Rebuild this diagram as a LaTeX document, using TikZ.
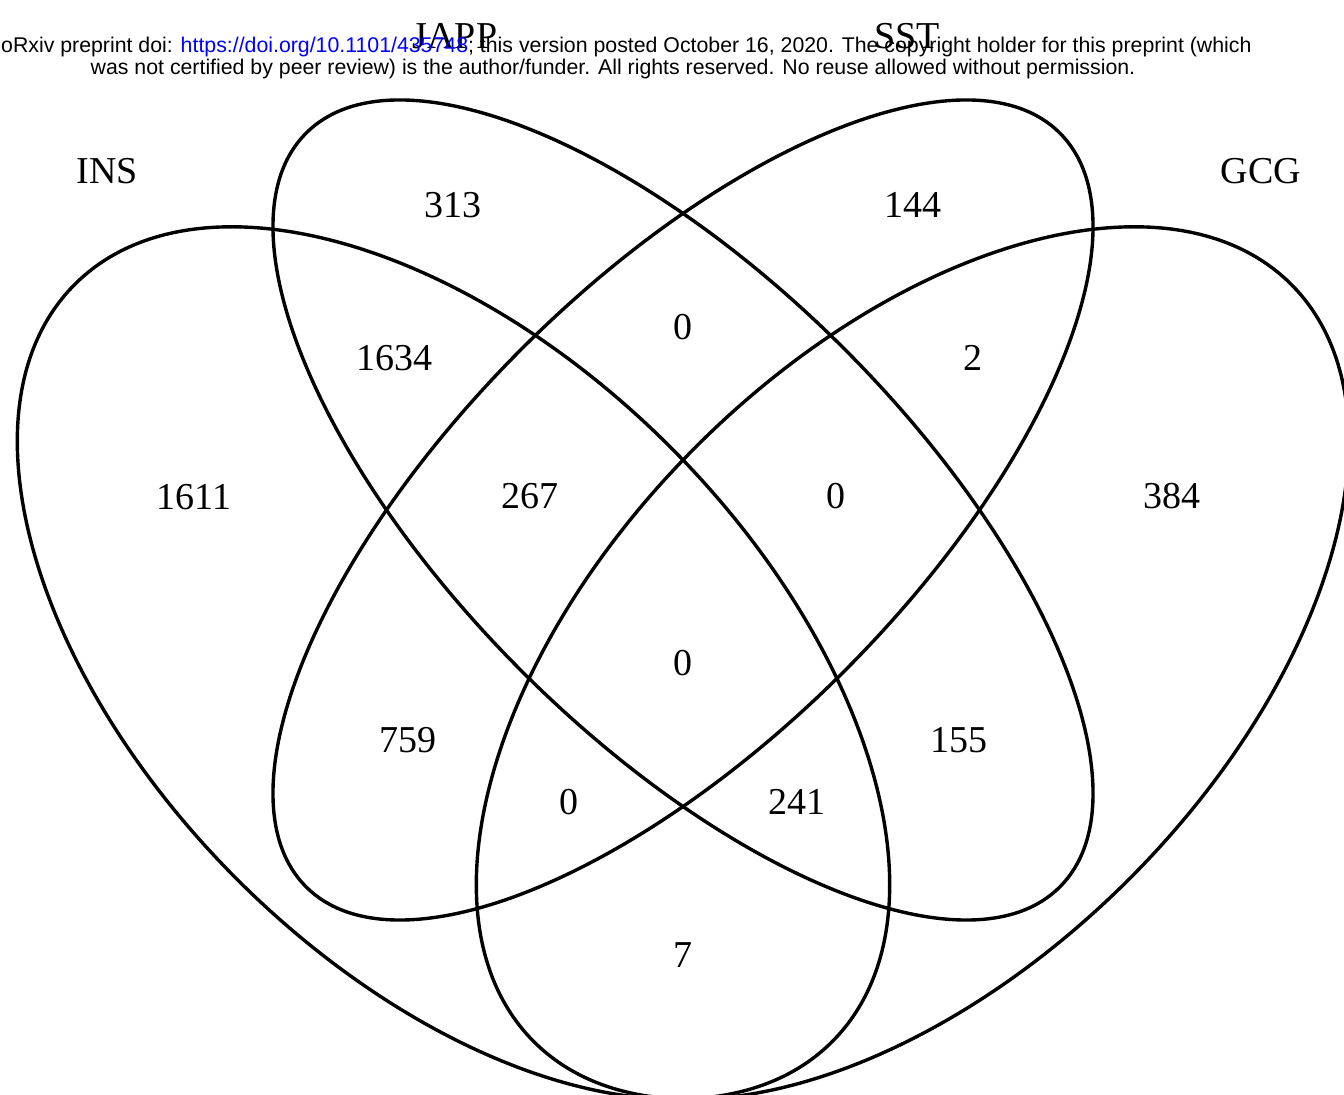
\documentclass[tikz,border=0pt]{standalone}
\usepackage{fontspec}
\setmainfont{Liberation Serif}
\newfontfamily\hdrfont{Liberation Sans}
\begin{document}
\begin{tikzpicture}[x=1pt,y=1pt,
  setline/.style={line width=3.4pt},
  cnt/.style={font=\fontsize{38}{40}\selectfont, inner sep=0pt},
  hdr/.style={font=\hdrfont\fontsize{21.3}{24}\selectfont, inner sep=0pt}]
\useasboundingbox (0,0) rectangle (1344,1095);
\clip (0,0) rectangle (1344,1095);
% ellipses
\draw[setline, rotate around={-45:(453.5,432)}] (453.5,432) ellipse [x radius=535.5, y radius=306];
\draw[setline, rotate around={45:(912.5,432)}] (912.5,432) ellipse [x radius=535.5, y radius=306];
\draw[setline, rotate around={-45:(683,585)}] (683,585) ellipse [x radius=533, y radius=228];
\draw[setline, rotate around={45:(683,585)}] (683,585) ellipse [x radius=533, y radius=228];
% set labels
\node[cnt] (lINS) at (107,924) {INS};
\node[cnt] (lGCG) at (1261,924) {GCG};
\node[cnt] (lJAPP) at (455,1059) {JAPP};
\node[cnt] (lSST) at (907,1059) {SST};
% counts
\node[cnt] (n313) at (453,890) {313};
\node[cnt] (n144) at (913,890) {144};
\node[cnt] (n0a) at (683,768) {0};
\node[cnt] (n1634) at (394,737) {1634};
\node[cnt] (n2) at (973,737) {2};
\node[cnt] (n1611) at (194,598) {1611};
\node[cnt] (n267) at (530,599) {267};
\node[cnt] (n0b) at (836,599) {0};
\node[cnt] (n384) at (1172,599) {384};
\node[cnt] (n0c) at (683,432) {0};
\node[cnt] (n759) at (408,355) {759};
\node[cnt] (n155) at (959,355) {155};
\node[cnt] (n0d) at (569,293) {0};
\node[cnt] (n241) at (797,293) {241};
\node[cnt] (n7) at (683,140) {7};
% header
\node[hdr, anchor=base west] (h1) at (1,1042) {oRxiv preprint doi: \textcolor{blue}{https://doi.org/10.1101/435748}; this version posted October 16, 2020. The copyright holder for this preprint (which};
\node[hdr, anchor=base] (h2) at (613,1020) {was not certified by peer review) is the author/funder. All rights reserved. No reuse allowed without permission.};
\end{tikzpicture}
\end{document}
